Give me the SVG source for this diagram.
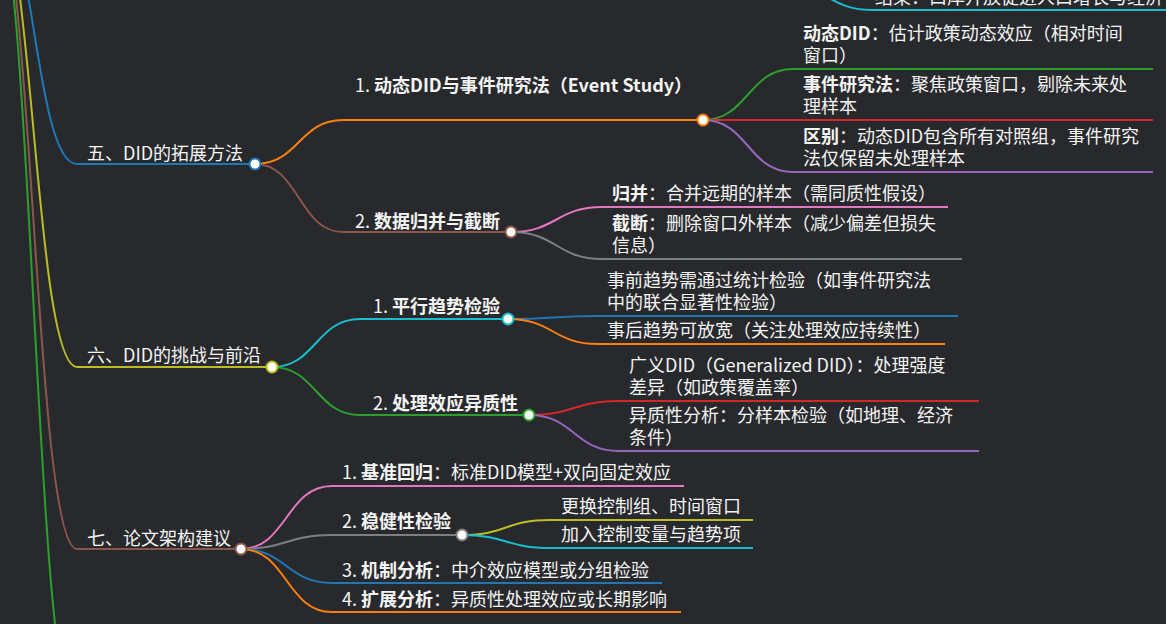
<svg xmlns="http://www.w3.org/2000/svg" width="1166" height="624" viewBox="0 0 1166 624">
<style>
.t{font-family:"Noto Sans CJK SC","Noto Sans",sans-serif;font-size:18px;fill:#f4f4f4}
.b{font-weight:700}
.l{fill:none;stroke-width:2}
.c{fill:#ffffff;stroke-width:2}
.blue{stroke:#1f77b4}.orange{stroke:#ff7f0e}.green{stroke:#2ca02c}.red{stroke:#d62728}.purple{stroke:#9467bd}
.brown{stroke:#8c564b}.pink{stroke:#e377c2}.gray{stroke:#7f7f7f}.olive{stroke:#bcbd22}.cyan{stroke:#17becf}
</style>
<rect width="1166" height="624" fill="#28292c"/>
<g id="connectors">
<path class="l blue" d="M-10,-107 C33.5,-107 33.5,164 77,164"/>
<path class="l olive" d="M-10,-107 C33.5,-107 33.5,367 77,367"/>
<path class="l brown" d="M-10,-107 C33.5,-107 33.5,549 77,549"/>
<path class="l green" d="M-10,-107 C33.5,-107 33.5,713 77,713"/>
<path class="l cyan" d="M783,-15 C828,-15 828,10 873,10"/>
<path class="l orange" d="M255,164 C299,164 299,120 343,120"/>
<path class="l brown" d="M255,164 C299,164 299,232 343,232"/>
<path class="l green" d="M703,120 C748,120 748,69 793,69"/>
<path class="l red" d="M703,120 L793,120"/>
<path class="l purple" d="M703,120 C748,120 748,172 793,172"/>
<path class="l pink" d="M511,232 C556.5,232 556.5,207 602,207"/>
<path class="l gray" d="M511,232 C556.5,232 556.5,259 602,259"/>
<path class="l cyan" d="M272,367 C316,367 316,319 360,319"/>
<path class="l green" d="M272,367 C316,367 316,415 360,415"/>
<path class="l blue" d="M508,319 C553,319 553,316 598,316"/>
<path class="l orange" d="M508,319 C553,319 553,344 598,344"/>
<path class="l red" d="M529,415 C574,415 574,401 619,401"/>
<path class="l purple" d="M529,415 C574,415 574,451 619,451"/>
<path class="l pink" d="M241,549 C286.5,549 286.5,486 332,486"/>
<path class="l gray" d="M241,549 C286.5,549 286.5,535 332,535"/>
<path class="l blue" d="M241,549 C286.5,549 286.5,583 332,583"/>
<path class="l orange" d="M241,549 C286.5,549 286.5,612 332,612"/>
<path class="l olive" d="M462,535 C506,535 506,520 550,520"/>
<path class="l cyan" d="M462,535 C506,535 506,548 550,548"/>
</g>
<g id="n-result">
<path class="l cyan" d="M873,10 H1170"/>
<text class="t" x="875" y="4">结果：口岸开放促进人口增长与经济</text>
</g>
<g id="n5">
<path class="l blue" d="M77,164 H255"/>
<text class="t" x="87" y="160">五、DID的拓展方法</text>
<circle class="c blue" cx="255" cy="164" r="5.5"/>
</g>
<g id="n5-1">
<path class="l orange" d="M343,120 H703"/>
<text class="t" x="355" y="92">1. <tspan class="b">动态DID与事件研究法（Event Study）</tspan></text>
<circle class="c orange" cx="703" cy="120" r="5.5"/>
</g>
<g id="n5-1-a">
<path class="l green" d="M793,69 H1153"/>
<text class="t" x="803" y="40"><tspan class="b">动态DID</tspan>：估计政策动态效应（相对时间</text>
<text class="t" x="803" y="62">窗口）</text>
</g>
<g id="n5-1-b">
<path class="l red" d="M793,120 H1153"/>
<text class="t" x="803" y="91"><tspan class="b">事件研究法</tspan>：聚焦政策窗口，剔除未来处</text>
<text class="t" x="803" y="113">理样本</text>
</g>
<g id="n5-1-c">
<path class="l purple" d="M793,172 H1153"/>
<text class="t" x="803" y="143"><tspan class="b">区别</tspan>：动态DID包含所有对照组，事件研究</text>
<text class="t" x="803" y="165">法仅保留未处理样本</text>
</g>
<g id="n5-2">
<path class="l brown" d="M343,232 H511"/>
<text class="t" x="355" y="228">2. <tspan class="b">数据归并与截断</tspan></text>
<circle class="c brown" cx="511" cy="232" r="5.5"/>
</g>
<g id="n5-2-a">
<path class="l pink" d="M602,207 H948"/>
<text class="t" x="612" y="200"><tspan class="b">归并</tspan>：合并远期的样本（需同质性假设）</text>
</g>
<g id="n5-2-b">
<path class="l gray" d="M602,259 H962"/>
<text class="t" x="612" y="230"><tspan class="b">截断</tspan>：删除窗口外样本（减少偏差但损失</text>
<text class="t" x="612" y="252">信息）</text>
</g>
<g id="n6">
<path class="l olive" d="M77,367 H272"/>
<text class="t" x="87" y="362">六、DID的挑战与前沿</text>
<circle class="c olive" cx="272" cy="367" r="5.5"/>
</g>
<g id="n6-1">
<path class="l cyan" d="M360,319 H508"/>
<text class="t" x="373" y="313">1. <tspan class="b">平行趋势检验</tspan></text>
<circle class="c cyan" cx="508" cy="319" r="5.5"/>
</g>
<g id="n6-1-a">
<path class="l blue" d="M598,316 H958"/>
<text class="t" x="607" y="287">事前趋势需通过统计检验（如事件研究法</text>
<text class="t" x="607" y="309">中的联合显著性检验）</text>
</g>
<g id="n6-1-b">
<path class="l orange" d="M598,344 H945"/>
<text class="t" x="607" y="337">事后趋势可放宽（关注处理效应持续性）</text>
</g>
<g id="n6-2">
<path class="l green" d="M360,415 H529"/>
<text class="t" x="373" y="410">2. <tspan class="b">处理效应异质性</tspan></text>
<circle class="c green" cx="529" cy="415" r="5.5"/>
</g>
<g id="n6-2-a">
<path class="l red" d="M619,401 H979"/>
<text class="t" x="629" y="372">广义DID（Generalized DID）：处理强度</text>
<text class="t" x="629" y="394">差异（如政策覆盖率）</text>
</g>
<g id="n6-2-b">
<path class="l purple" d="M619,451 H979"/>
<text class="t" x="629" y="422">异质性分析：分样本检验（如地理、经济</text>
<text class="t" x="629" y="444">条件）</text>
</g>
<g id="n7">
<path class="l brown" d="M77,549 H241"/>
<text class="t" x="87" y="545">七、论文架构建议</text>
<circle class="c brown" cx="241" cy="549" r="5.5"/>
</g>
<g id="n7-1">
<path class="l pink" d="M332,486 H684"/>
<text class="t" x="342" y="479">1. <tspan class="b">基准回归</tspan>：标准DID模型+双向固定效应</text>
</g>
<g id="n7-2">
<path class="l gray" d="M332,535 H462"/>
<text class="t" x="342" y="528">2. <tspan class="b">稳健性检验</tspan></text>
<circle class="c gray" cx="462" cy="535" r="5.5"/>
</g>
<g id="n7-2-a">
<path class="l olive" d="M550,520 H753"/>
<text class="t" x="561" y="513">更换控制组、时间窗口</text>
</g>
<g id="n7-2-b">
<path class="l cyan" d="M550,548 H753"/>
<text class="t" x="561" y="541">加入控制变量与趋势项</text>
</g>
<g id="n7-3">
<path class="l blue" d="M332,583 H662"/>
<text class="t" x="342" y="577">3. <tspan class="b">机制分析</tspan>：中介效应模型或分组检验</text>
</g>
<g id="n7-4">
<path class="l orange" d="M332,612 H681"/>
<text class="t" x="342" y="606">4. <tspan class="b">扩展分析</tspan>：异质性处理效应或长期影响</text>
</g>
</svg>
